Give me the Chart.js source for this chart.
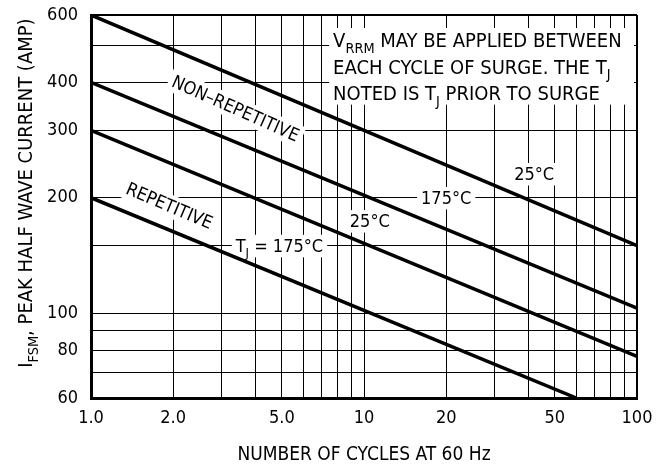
<!DOCTYPE html>
<html>
<head>
<meta charset="utf-8">
<script src="https://cdn.jsdelivr.net/npm/chart.js@4.4.0/dist/chart.umd.min.js"></script>
<style>
html, body { margin: 0; padding: 0; background: #fff; }
#wrap { width: 665px; height: 472px; }
</style>
</head>
<body>
<div id="wrap"><canvas id="canvas"></canvas></div>
<script>
// サージ回数 (横軸)
const cycles = [1, 100];
const cyclesRep175 = [1, 60];
// 非反復サージ 25°C / 175°C
const nonRep25 = [600, 150];
const nonRep175 = [400, 103];
// 反復サージ 25°C / 175°C
const rep25 = [300, 77];
const rep175 = [200, 60];

// 目盛り
const xGrid = [1, 2, 3, 4, 5, 6, 7, 8, 9, 10, 20, 30, 40, 50, 60, 70, 80, 90, 100];
const xLabels = {1: '1.0', 2: '2.0', 5: '5.0', 10: '10', 20: '20', 50: '50', 100: '100'};
const yGrid = [60, 70, 80, 90, 100, 150, 200, 300, 400, 500, 600];
const yLabels = {60: '60', 80: '80', 100: '100', 200: '200', 300: '300', 400: '400', 600: '600'};

const FONT = '"Liberation Sans Narrow", "Arial Narrow", "DejaVu Sans Condensed", sans-serif';

// グラフ中の注記 (位置はデータ座標)
const notes = [
    {parts: [['NON–REPETITIVE']], x: 3.39, y: 343, angle: 24},
    {parts: [['REPETITIVE']], x: 1.94, y: 191, angle: 23},
    {parts: [['T'], ['J', 1], [' = 175°C']], x: 4.9, y: 150, angle: 0},
    {parts: [['25°C']], x: 10.5, y: 174, angle: 0},
    {parts: [['175°C']], x: 20, y: 200, angle: 0},
    {parts: [['25°C']], x: 42, y: 231, angle: 0}
];
const boxLines = [
    [['V'], ['RRM', 1], [' MAY BE APPLIED BETWEEN']],
    [['EACH CYCLE OF SURGE. THE T'], ['J', 1]],
    [['NOTED IS T'], ['J', 1], [' PRIOR TO SURGE']]
];
const yTitle = [['I'], ['FSM', 1], [', PEAK HALF WAVE CURRENT (AMP)']];

function richWidth(ctx, parts, size) {
    let w = 0;
    parts.forEach(p => {
        ctx.font = (p[1] ? size * 0.72 : size) + 'px ' + FONT;
        w += ctx.measureText(p[0]).width;
    });
    return w;
}

function drawRich(ctx, parts, x, y, size) {
    parts.forEach(p => {
        const s = p[1] ? size * 0.72 : size;
        ctx.font = s + 'px ' + FONT;
        ctx.fillText(p[0], x, y + (p[1] ? size * 0.28 : 0));
        x += ctx.measureText(p[0]).width;
    });
}

const notePlugin = {
    id: 'notes',
    beforeDatasetsDraw(chart) {
        const ctx = chart.ctx;
        const xs = chart.scales.x, ys = chart.scales.y;
        const area = chart.chartArea;
        const size = 18;
        ctx.save();
        ctx.textAlign = 'left';
        ctx.textBaseline = 'alphabetic';

        // 右上の説明枠
        const bx = xs.getPixelForValue(7.45);
        const by = area.top + 13;
        const bb = ys.getPixelForValue(350);
        ctx.fillStyle = '#fff';
        ctx.fillRect(bx, by, area.right - 3 - bx, bb - by);
        ctx.fillStyle = '#000';
        boxLines.forEach((line, i) => {
            drawRich(ctx, line, bx + 4, by + 19 + i * 26.5, 20);
        });

        // 各曲線のラベル
        notes.forEach(n => {
            const px = xs.getPixelForValue(n.x);
            const py = ys.getPixelForValue(n.y);
            const w = richWidth(ctx, n.parts, size);
            ctx.save();
            ctx.translate(px, py);
            ctx.rotate(n.angle * Math.PI / 180);
            ctx.fillStyle = '#fff';
            ctx.fillRect(-w / 2 - 4, -size * 0.6, w + 8, size * 1.25);
            ctx.fillStyle = '#000';
            drawRich(ctx, n.parts, -w / 2, size * 0.36, size);
            ctx.restore();
        });
        ctx.restore();
    },
    afterDraw(chart) {
        // 縦軸タイトル (下付き文字付き)
        const ctx = chart.ctx;
        const area = chart.chartArea;
        const size = 20;
        ctx.save();
        ctx.fillStyle = '#000';
        ctx.translate(32, area.top + (area.bottom - area.top) * 0.465);
        ctx.rotate(-Math.PI / 2);
        const w = richWidth(ctx, yTitle, size);
        drawRich(ctx, yTitle, -w / 2, 0, size);
        ctx.restore();
    }
};

const toPts = (xs, ys) => xs.map((x, i) => ({x: x, y: ys[i]}));
const lineStyle = {borderColor: '#000', borderWidth: 3.5, pointRadius: 0, fill: false, tension: 0};

const canvas = document.getElementById('canvas');
new Chart(canvas.getContext('2d'), {
    type: 'line',
    data: {
        datasets: [
            Object.assign({label: 'Non-repetitive 25°C', data: toPts(cycles, nonRep25)}, lineStyle),
            Object.assign({label: 'Non-repetitive 175°C', data: toPts(cycles, nonRep175)}, lineStyle),
            Object.assign({label: 'Repetitive 25°C', data: toPts(cycles, rep25)}, lineStyle),
            Object.assign({label: 'Repetitive 175°C', data: toPts(cyclesRep175, rep175)}, lineStyle)
        ]
    },
    options: {
        animation: false,
        responsive: true,
        maintainAspectRatio: false,
        layout: {padding: {left: 0, top: 15, right: 28, bottom: 0}},
        plugins: {legend: {display: false}, tooltip: {enabled: false}},
        scales: {
            x: {
                type: 'logarithmic',
                min: 1,
                max: 100,
                afterBuildTicks: s => { s.ticks = xGrid.map(v => ({value: v})); },
                afterFit: s => { s.height = 74; s.paddingLeft = 0; s.paddingRight = 0; },
                ticks: {
                    callback: v => xLabels[v] || '',
                    autoSkip: false,
                    maxRotation: 0,
                    color: '#000',
                    padding: 10,
                    font: {family: FONT, size: 18}
                },
                grid: {
                    color: '#000',
                    lineWidth: c => (c.tick && c.tick.value === 100 ? 2 : 1),
                    drawTicks: false
                },
                border: {color: '#000', width: 3},
                title: {
                    display: true,
                    text: 'NUMBER OF CYCLES AT 60 Hz',
                    color: '#000',
                    font: {family: FONT, size: 19},
                    padding: {top: 4, bottom: 6}
                }
            },
            y: {
                type: 'logarithmic',
                min: 60,
                max: 600,
                afterBuildTicks: s => { s.ticks = yGrid.map(v => ({value: v})); },
                afterFit: s => { s.width = 91; s.paddingTop = 0; s.paddingBottom = 0; },
                ticks: {
                    callback: v => yLabels[v] || '',
                    autoSkip: false,
                    color: '#000',
                    padding: 13,
                    font: {family: FONT, size: 18}
                },
                grid: {
                    color: '#000',
                    lineWidth: c => (c.tick && c.tick.value === 600 ? 2 : 1),
                    drawTicks: false
                },
                border: {color: '#000', width: 3}
            }
        }
    },
    plugins: [notePlugin]
});
</script>
</body>
</html>
